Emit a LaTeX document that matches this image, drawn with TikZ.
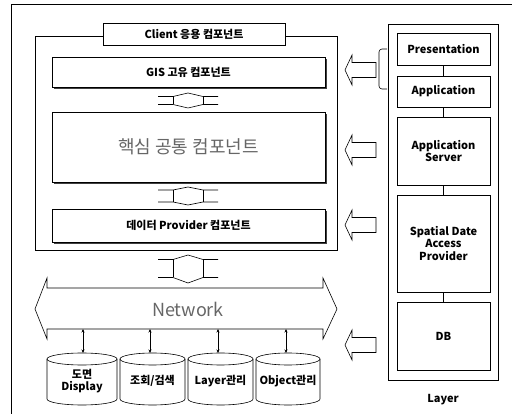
\documentclass[tikz,border=0pt]{standalone}
\usepackage{fontspec}
\setmainfont{Noto Sans CJK KR}
\usetikzlibrary{arrows.meta,shadows}
\newcommand\udarrow[4]{%
  \draw (158,#2) -- (173,#2) -- (188,#1) -- (203,#2) -- (218,#2);
  \draw (158,#3) -- (173,#3) -- (188,#4) -- (203,#3) -- (218,#3);
  \draw (173,#2) -- (173,#3) (203,#2) -- (203,#3);}
\newcommand\larrow[1]{%
  \draw (345,#1) -- (352,#1-15) -- (352,#1-7.5) -- (376,#1-7.5) -- (376,#1+7.5) -- (352,#1+7.5) -- (352,#1+15) -- cycle;}
\newcommand\cyl[5]{% name, cx, rx, text, arrow x
  \node[lbl, minimum width=2*#3 pt, minimum height=40pt] (#1) at (#2,381) {#4};
  \draw (#2-#3,359) -- (#2-#3,399) arc[start angle=180,end angle=0,x radius=#3,y radius=6] -- (#2+#3,359);
  \draw (#2,359) ellipse[x radius=#3, y radius=6];
  \coordinate (#1top) at (#5,353);
  \coordinate (#1net) at (#5,329);
  \draw[dbl] (#1net) -- (#1top);}
\begin{document}
\begin{tikzpicture}[x=1pt,y=-1pt, line width=0.6pt,
  lbl/.style={inner sep=0pt, align=center, font=\fontsize{11}{12.5}\selectfont\bfseries},
  box/.style={lbl, draw, fill=white},
  sbox/.style={box, drop shadow={shadow xshift=1.6pt, shadow yshift=-1.6pt, fill=black!75, opacity=1}},
  dbl/.style={{Stealth[length=3.5pt,width=3pt]}-{Stealth[length=3.5pt,width=3pt]}},
  graytext/.style={text=black!60, font=\fontsize{18}{20}\selectfont}]
\useasboundingbox (0,0) rectangle (512,414);
% outer frame
\draw (11,414) -- (11,4) -- (512,4);
% client box
\node[draw, minimum width=302pt, minimum height=214pt, anchor=north west] (client) at (35,36) {};
\node[box, minimum width=182pt, minimum height=22pt] (title) at (194,34) {Client 응용 컴포넌트};
\node[sbox, minimum width=273pt, minimum height=30pt] (gis) at (188.5,72) {GIS 고유 컴포넌트};
\node[sbox, minimum width=273pt, minimum height=70pt, graytext] (core) at (188.5,147) {핵심 공통 컴포넌트};
\node[sbox, minimum width=273pt, minimum height=33pt] (data) at (188.5,225.5) {데이터 Provider 컴포넌트};
\udarrow{93}{96.5}{104.5}{108}
\udarrow{187}{190}{202}{205}
\udarrow{255}{259.5}{277.5}{283}
% network
\draw (35,309) -- (47,278) -- (47,288) -- (323,288) -- (323,278) -- (337,309) -- (323,339) -- (323,329) -- (47,329) -- (47,339) -- cycle;
\node[graytext] (net) at (188,309) {Network};
% cylinders
\cyl{c1}{82}{35}{도면\\Display}{83}
\cyl{c2}{152.5}{32.5}{조회/검색}{150}
\cyl{c3}{220.5}{32.5}{Layer관리}{218}
\cyl{c4}{288}{32}{Object관리}{286}
% layer column
\node[draw, minimum width=110pt, minimum height=356pt, anchor=north west] (layer) at (388,24) {};
\node[box, minimum width=93pt, minimum height=32pt] (pres) at (443.5,49) {Presentation};
\node[box, minimum width=93pt, minimum height=31pt] (app) at (443.5,91.5) {Application};
\node[box, minimum width=93pt, minimum height=68pt] (appsrv) at (443.5,151) {Application\\Server};
\node[box, minimum width=93pt, minimum height=97pt] (sdap) at (443.5,243.5) {Spatial Date\\Access\\Provider};
\node[box, minimum width=93pt, minimum height=68pt] (db) at (443.5,336) {DB};
\draw (pres) -- (app);
\draw (app) -- (appsrv);
\draw (appsrv) -- (sdap);
\draw (sdap) -- (db);
\node[lbl] (layerlbl) at (443,400) {Layer};
% brace
\draw[rounded corners=3pt] (387,49) -- (379,49) -- (379,89) -- (387,89);
% left arrows
\larrow{70}
\larrow{150}
\larrow{225}
\larrow{345}
\end{tikzpicture}
\end{document}
